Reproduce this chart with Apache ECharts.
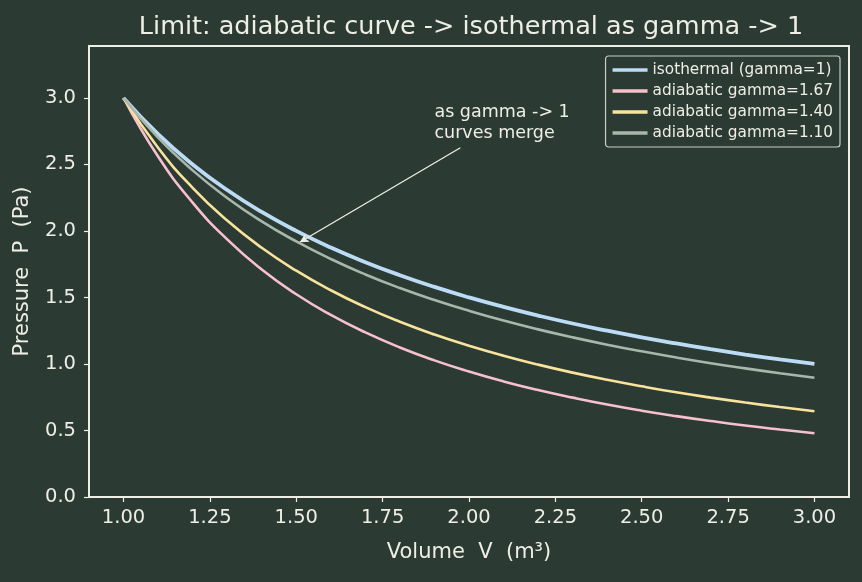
<!DOCTYPE html>
<html>
<head>
<meta charset="utf-8">
<script src="https://cdn.jsdelivr.net/npm/echarts@6/dist/echarts.min.js"></script>
<style>
  html, body { margin: 0; padding: 0; background: #2b3a33; }
  #chart { width: 862px; height: 582px; }
</style>
</head>
<body>
<div id="chart"></div>
<script>
// volume samples (m^3)
const volume = [1.0, 1.1, 1.2, 1.3, 1.4, 1.5, 1.6, 1.7, 1.8, 1.9, 2.0,
                2.1, 2.2, 2.3, 2.4, 2.5, 2.6, 2.7, 2.8, 2.9, 3.0];

// pressure (Pa)
const isothermal = [3.000, 2.727, 2.500, 2.308, 2.143, 2.000, 1.875, 1.765, 1.667, 1.579, 1.500,
                    1.429, 1.364, 1.304, 1.250, 1.200, 1.154, 1.111, 1.071, 1.034, 1.000];
const gamma167 = [3.000, 2.559, 2.213, 1.936, 1.710, 1.524, 1.369, 1.237, 1.124, 1.027, 0.943,
                  0.869, 0.804, 0.747, 0.695, 0.649, 0.608, 0.571, 0.537, 0.507, 0.479];
const gamma140 = [3.000, 2.625, 2.324, 2.078, 1.873, 1.701, 1.554, 1.427, 1.317, 1.221, 1.137,
                  1.062, 0.995, 0.935, 0.881, 0.832, 0.787, 0.747, 0.710, 0.676, 0.644];
const gamma110 = [3.000, 2.701, 2.455, 2.248, 2.072, 1.921, 1.789, 1.673, 1.571, 1.481, 1.400,
                  1.326, 1.260, 1.200, 1.145, 1.095, 1.049, 1.006, 0.967, 0.930, 0.896];

const seriesNames = ['isothermal (gamma=1)', 'adiabatic gamma=1.67',
                     'adiabatic gamma=1.40', 'adiabatic gamma=1.10'];
const seriesData = [isothermal, gamma167, gamma140, gamma110];
const colors = ['#bcdcf6', '#f6c0cf', '#f8e39c', '#a9b6ab'];
const widths = [3.8, 2.6, 2.6, 2.6];

const xTicks = [1.00, 1.25, 1.50, 1.75, 2.00, 2.25, 2.50, 2.75, 3.00];

const textColor = '#eeeee4';
const font = 'DejaVu Sans';

const chart = echarts.init(document.getElementById('chart'));

function pairs(ys) {
    return volume.map((v, i) => [v, ys[i]]);
}

const series = seriesData.map((ys, i) => ({
    name: seriesNames[i],
    type: 'line',
    data: pairs(ys),
    smooth: 0.5,
    showSymbol: false,
    lineStyle: { color: colors[i], width: widths[i] },
    itemStyle: { color: colors[i] },
    z: 2 + i
}));

// annotation arrow onto the gamma=1.10 curve
series[3].markLine = {
    silent: true,
    symbol: ['none', 'arrow'],
    symbolSize: [7, 9],
    lineStyle: { color: textColor, width: 1.3, type: 'solid' },
    label: { show: false },
    data: [[{ coord: [1.975, 2.625] }, { coord: [1.51, 1.915] }]]
};

chart.setOption({
    backgroundColor: '#2b3a33',
    animation: false,
    color: colors,
    title: {
        text: 'Limit: adiabatic curve -> isothermal as gamma -> 1',
        left: 466,
        textAlign: 'center',
        top: 9,
        textStyle: { color: textColor, fontFamily: font, fontSize: 25.5, fontWeight: 'normal' }
    },
    legend: {
        orient: 'vertical',
        right: 22,
        top: 56,
        data: seriesNames,
        icon: 'rect',
        itemWidth: 35,
        itemHeight: 3.5,
        itemGap: 3,
        padding: [5, 7, 5, 7],
        backgroundColor: '#2b3a33',
        borderColor: '#c8cdc6',
        borderWidth: 1.2,
        borderRadius: 3,
        textStyle: { color: textColor, fontFamily: font, fontSize: 15.3, lineHeight: 18 }
    },
    grid: {
        left: 89, right: 13, top: 46, bottom: 85,
        show: true,
        borderColor: textColor,
        borderWidth: 2
    },
    xAxis: {
        type: 'value',
        min: 0.9, max: 3.1,
        name: 'Volume  V  (m³)',
        nameLocation: 'middle',
        nameGap: 45,
        nameTextStyle: { color: textColor, fontFamily: font, fontSize: 21 },
        axisLine: { show: true, lineStyle: { color: textColor, width: 2 } },
        axisTick: {
            show: true, length: 5,
            customValues: xTicks,
            lineStyle: { color: textColor, width: 1.2 }
        },
        axisLabel: {
            color: textColor, fontFamily: font, fontSize: 19.5, margin: 11,
            customValues: xTicks,
            formatter: v => v.toFixed(2)
        },
        splitLine: { show: false }
    },
    yAxis: {
        type: 'value',
        min: 0, max: 3.39,
        interval: 0.5,
        name: 'Pressure  P  (Pa)',
        nameLocation: 'middle',
        nameGap: 56,
        nameTextStyle: { color: textColor, fontFamily: font, fontSize: 21 },
        axisLine: { show: true, lineStyle: { color: textColor, width: 2 } },
        axisTick: { show: true, length: 5, lineStyle: { color: textColor, width: 1.2 } },
        axisLabel: {
            color: textColor, fontFamily: font, fontSize: 19.5, margin: 13,
            showMaxLabel: false,
            formatter: v => v.toFixed(1)
        },
        splitLine: { show: false }
    },
    series: series
});

// annotation text placed at data coords
const textPos = chart.convertToPixel({ gridIndex: 0 }, [1.90, 2.97]);
chart.setOption({
    graphic: [{
        type: 'text',
        x: textPos[0],
        y: textPos[1],
        style: {
            text: 'as gamma -> 1\ncurves merge',
            fill: textColor,
            font: '17.5px "DejaVu Sans"',
            lineHeight: 21
        },
        z: 10
    }]
});
</script>
</body>
</html>
